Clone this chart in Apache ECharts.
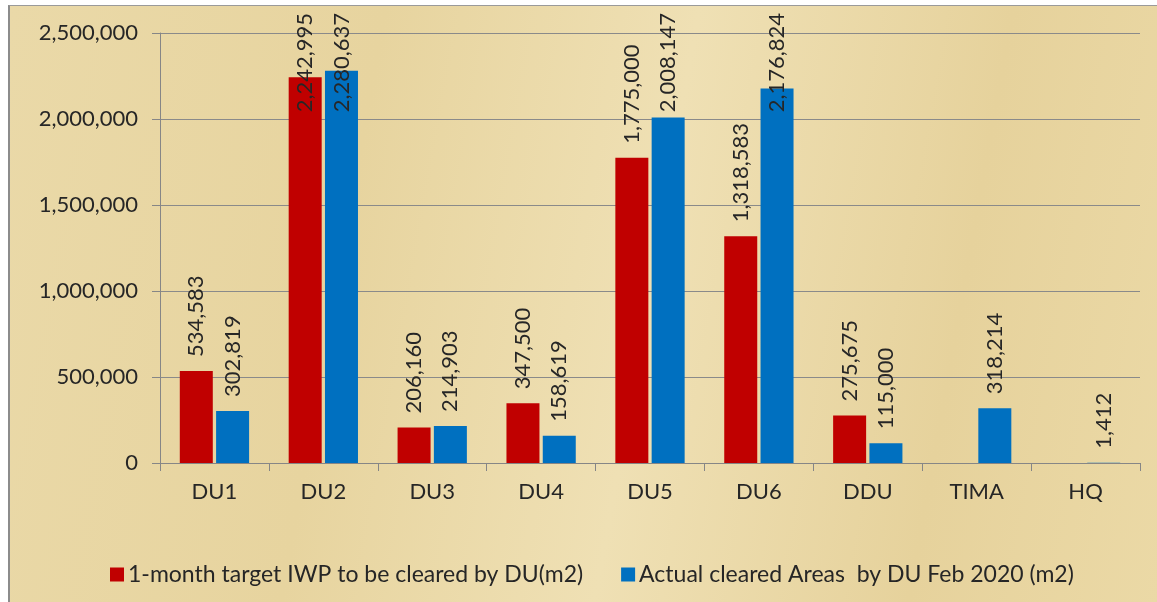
<!DOCTYPE html>
<html>
<head>
<meta charset="utf-8">
<script src="https://cdn.jsdelivr.net/npm/echarts@6/dist/echarts.min.js"></script>
<style>
  html, body { margin: 0; padding: 0; background: #fff; }
  .frame {
    position: absolute; left: 8px; top: 5px; width: 1149px; height: 597px;
    border-left: 2px solid #8c8c8c; border-top: 1px solid #9a9a9a;
    background: linear-gradient(100deg, #ead9a8 0%, #e7d49f 30%, #efe0b4 55%, #e6d29c 80%, #ebd9a6 100%);
  }
  #chart { position: absolute; left: 0; top: 0; width: 1157px; height: 602px; }
</style>
</head>
<body>
<div class="frame"></div>
<div id="chart"></div>
<script>
const categories = ['DU1', 'DU2', 'DU3', 'DU4', 'DU5', 'DU6', 'DDU', 'TIMA', 'HQ'];
const targetValues = [534583, 2242995, 206160, 347500, 1775000, 1318583, 275675, null, null];
const actualValues = [302819, 2280637, 214903, 158619, 2008147, 2176824, 115000, 318214, 1412];
const yTicks = [0, 500000, 1000000, 1500000, 2000000, 2500000];
const seriesNames = [
  '1-month target IWP to be cleared by DU(m2)',
  'Actual cleared Areas  by DU Feb 2020 (m2)'
];

const fmt = (v) => Number(v).toLocaleString('en-US');
const textColor = '#262626';
const fontFamily = 'Lato, "Open Sans", sans-serif';

const myChart = echarts.init(document.getElementById('chart'), null, { renderer: 'canvas' });

const labelStyle = {
  show: true,
  position: 'top',
  distance: 14,
  rotate: 90,
  align: 'left',
  verticalAlign: 'middle',
  color: textColor,
  fontFamily: fontFamily,
  fontSize: 22,
  formatter: (p) => fmt(p.value)
};

// labels that would run off the top get pushed down (as in the original)
// the label is rotated, so its own x runs upwards on screen
const clampTop = (params) => {
  const r = params.labelRect;
  if (r.y < 13) return { dx: -(13 - r.y) };
  return {};
};

const option = {
  backgroundColor: 'transparent',
  animation: false,
  grid: { left: 160, right: 17, top: 33, bottom: 139 },
  legend: {
    left: 105,
    top: 558,
    itemWidth: 14,
    itemHeight: 14,
    itemGap: 38,
    icon: 'rect',
    textStyle: { color: textColor, fontFamily: fontFamily, fontSize: 23, padding: [0, 0, 0, -1] },
    data: seriesNames
  },
  xAxis: {
    type: 'category',
    data: categories,
    axisLine: { lineStyle: { color: '#868686', width: 1 } },
    axisTick: { show: true, length: 8, lineStyle: { color: '#868686' } },
    axisLabel: { color: textColor, fontFamily: fontFamily, fontSize: 22, margin: 18 }
  },
  yAxis: {
    type: 'value',
    min: yTicks[0],
    max: yTicks[yTicks.length - 1],
    interval: yTicks[1] - yTicks[0],
    axisLine: { show: true, lineStyle: { color: '#868686', width: 1 } },
    axisTick: { show: true, length: 8, lineStyle: { color: '#868686' } },
    splitLine: { lineStyle: { color: '#8a8a8a', width: 1 } },
    axisLabel: {
      color: textColor, fontFamily: fontFamily, fontSize: 22, margin: 22,
      formatter: (v) => fmt(v)
    }
  },
  series: [
    {
      name: seriesNames[0],
      type: 'bar',
      data: targetValues,
      barWidth: 33,
      barGap: '10%',
      itemStyle: { color: '#c00000' },
      label: labelStyle,
      labelLayout: clampTop
    },
    {
      name: seriesNames[1],
      type: 'bar',
      data: actualValues,
      barWidth: 33,
      barGap: '10%',
      itemStyle: { color: '#0070c0' },
      label: labelStyle,
      labelLayout: clampTop
    }
  ]
};

if (option && typeof option === 'object') {
  myChart.setOption(option);
}
window.addEventListener('resize', myChart.resize);
</script>
</body>
</html>
